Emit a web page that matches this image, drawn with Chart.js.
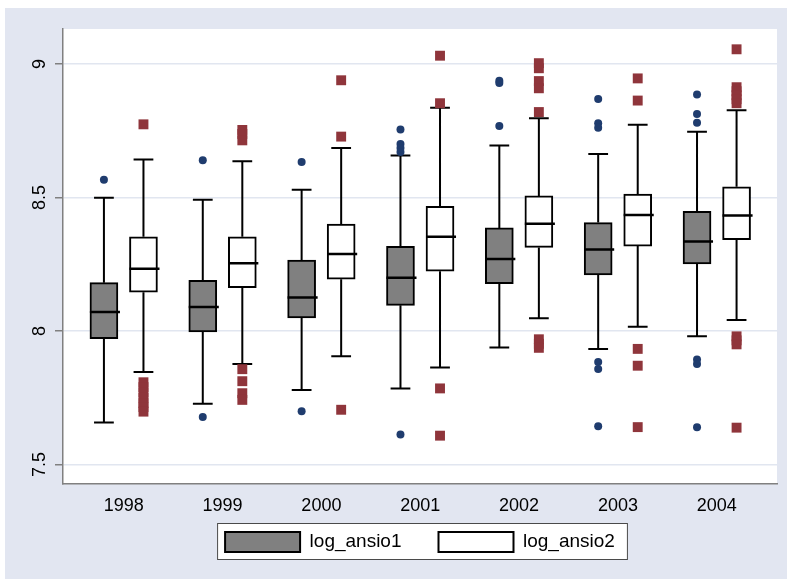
<!DOCTYPE html>
<html>
<head>
<meta charset="utf-8">
<script src="https://cdn.jsdelivr.net/npm/chart.js@4.4.1/dist/chart.umd.min.js"></script>
<style>
  html, body { margin: 0; padding: 0; background: #fff; }
  #wrap { position: absolute; left: 5px; top: 8px; width: 782px; height: 571px; }
</style>
</head>
<body>
<div id="wrap"><canvas id="box-chart" width="782" height="571"></canvas></div>
<script>
// Box plot of log_ansio1 / log_ansio2 by year, drawn with floating bars + line datasets.

const years = ['1998', '1999', '2000', '2001', '2002', '2003', '2004'];
const yTicks = [7.5, 8, 8.5, 9];

// log_ansio1 (grey boxes)
const a1Lo  = [7.657, 7.728, 7.779, 7.785, 7.938, 7.933, 7.980];
const a1Q1  = [7.971, 7.997, 8.049, 8.096, 8.177, 8.210, 8.251];
const a1Med = [8.071, 8.090, 8.125, 8.199, 8.270, 8.305, 8.335];
const a1Q3  = [8.181, 8.190, 8.266, 8.317, 8.386, 8.406, 8.448];
const a1Hi  = [8.499, 8.492, 8.529, 8.657, 8.695, 8.663, 8.746];
const a1Out = [
  [8.566],
  [8.639, 7.678],
  [8.633, 7.699],
  [8.755, 8.700, 8.685, 8.670, 7.612],
  [8.937, 8.929, 8.768],
  [8.869, 8.778, 8.761, 7.884, 7.858, 7.643],
  [8.886, 8.813, 8.780, 7.893, 7.876, 7.640]
];

// log_ansio2 (white boxes)
const a2Lo  = [7.846, 7.876, 7.905, 7.863, 8.048, 8.016, 8.041];
const a2Q1  = [8.145, 8.162, 8.194, 8.224, 8.313, 8.318, 8.342];
const a2Med = [8.233, 8.254, 8.288, 8.353, 8.402, 8.434, 8.433];
const a2Q3  = [8.353, 8.353, 8.400, 8.467, 8.506, 8.513, 8.540];
const a2Hi  = [8.642, 8.636, 8.685, 8.836, 8.797, 8.772, 8.827];
const a2Out = [
  [8.774, 7.808, 7.790, 7.770, 7.750, 7.730, 7.715, 7.698],
  [8.753, 8.738, 8.714, 7.857, 7.812, 7.767, 7.742],
  [8.939, 8.728, 7.705],
  [9.031, 8.853, 7.785, 7.608],
  [9.003, 8.984, 8.936, 8.909, 8.820, 7.969, 7.952, 7.937],
  [8.946, 8.863, 7.933, 7.870, 7.640],
  [9.055, 8.913, 8.898, 8.883, 8.868, 8.853, 7.980, 7.965, 7.950, 7.638]
];

const FONT = '"Liberation Sans", Arial, Helvetica, sans-serif';
const BG = '#e2e6f1';
const SHIFT = 0.2;   // each box sits this far left/right of the year
const CAP = 0.1;     // half width of the whisker caps

function boxes(q1, q3, shift) {
  return years.map((_, i) => ({ x: i + shift, y: [q1[i], q3[i]] }));
}

// whisker + caps as one polyline, broken with null points
function whiskers(lo, q1, q3, hi, shift) {
  const pts = [];
  years.forEach((_, i) => {
    const c = i + shift;
    pts.push(
      { x: c - CAP, y: hi[i] }, { x: c + CAP, y: hi[i] }, { x: c, y: null },
      { x: c, y: hi[i] }, { x: c, y: q3[i] }, { x: c, y: null },
      { x: c, y: q1[i] }, { x: c, y: lo[i] }, { x: c, y: null },
      { x: c - CAP, y: lo[i] }, { x: c + CAP, y: lo[i] }, { x: c, y: null }
    );
  });
  return pts;
}

function medians(med, shift) {
  const pts = [];
  years.forEach((_, i) => {
    const c = i + shift;
    pts.push({ x: c - 0.142, y: med[i] }, { x: c + 0.162, y: med[i] }, { x: c, y: null });
  });
  return pts;
}

function outliers(out, shift) {
  return out.flatMap((vals, i) => vals.map(v => ({ x: i + shift, y: v })));
}

// background, white plot region and the framed legend
const framePlugin = {
  id: 'frame',
  afterLayout(chart) {
    // pull the legend up close under the year labels (legend clips to its own box)
    const lg = chart.legend;
    lg.top = chart.chartArea.bottom + 11;
    lg.bottom = chart.height;
    lg.height = lg.bottom - lg.top;
  },
  beforeDraw(chart) {
    const { ctx, chartArea: a, width, height } = chart;
    ctx.save();
    ctx.fillStyle = BG;
    ctx.fillRect(0, 0, width, height);
    ctx.fillStyle = '#fff';
    ctx.fillRect(a.left, a.top, a.right - a.left, a.bottom - a.top);
    const hb = chart.legend && chart.legend.legendHitBoxes;
    if (hb && hb.length) {
      const last = hb[hb.length - 1];
      const l = hb[0].left - 8, r = last.left + last.width + 13;
      const t = hb[0].top - 9, b = hb[0].top + hb[0].height + 8;
      ctx.fillStyle = '#fff';
      ctx.fillRect(l, t, r - l, b - t);
      ctx.strokeStyle = '#4a4a4a';
      ctx.lineWidth = 1;
      ctx.strokeRect(l + 0.5, t + 0.5, r - l - 1, b - t - 1);
    }
    ctx.restore();
  }
};

const lineStyle = { type: 'line', borderColor: '#000', pointRadius: 0, spanGaps: false, fill: false, tension: 0 };

new Chart(document.getElementById('box-chart').getContext('2d'), {
  type: 'bar',
  data: {
    datasets: [
      Object.assign({ label: 'whisk1', data: whiskers(a1Lo, a1Q1, a1Q3, a1Hi, -SHIFT), borderWidth: 2, order: 3 }, lineStyle),
      Object.assign({ label: 'whisk2', data: whiskers(a2Lo, a2Q1, a2Q3, a2Hi, SHIFT), borderWidth: 2, order: 3 }, lineStyle),
      {
        label: 'log_ansio1', data: boxes(a1Q1, a1Q3, -SHIFT),
        backgroundColor: '#808080', borderColor: '#000', borderWidth: 2, borderSkipped: false,
        barThickness: 28, grouped: false, order: 2
      },
      {
        label: 'log_ansio2', data: boxes(a2Q1, a2Q3, SHIFT),
        backgroundColor: '#fff', borderColor: '#000', borderWidth: 2, borderSkipped: false,
        barThickness: 28, grouped: false, order: 2
      },
      Object.assign({ label: 'med1', data: medians(a1Med, -SHIFT), borderWidth: 2.5, order: 1 }, lineStyle),
      Object.assign({ label: 'med2', data: medians(a2Med, SHIFT), borderWidth: 2.5, order: 1 }, lineStyle),
      {
        type: 'scatter', label: 'out1', data: outliers(a1Out, -SHIFT),
        pointStyle: 'circle', pointRadius: 4, backgroundColor: '#1f3c6e', borderWidth: 0, order: 0
      },
      {
        type: 'scatter', label: 'out2', data: outliers(a2Out, SHIFT),
        pointStyle: 'rect', pointRadius: 7, backgroundColor: '#8f353b', borderWidth: 0, order: 0
      }
    ]
  },
  options: {
    responsive: false,
    animation: false,
    layout: { padding: { top: 21, right: 10, bottom: 15, left: 0 } },
    plugins: {
      legend: {
        position: 'bottom',
        fullSize: false,
        maxHeight: 40,
        labels: {
          filter: item => item.text.indexOf('log_') === 0,
          boxWidth: 75, boxHeight: 20, padding: 37,
          color: '#000', font: { family: FONT, size: 19 }
        }
      },
      tooltip: { enabled: false }
    },
    scales: {
      x: {
        type: 'linear', min: -0.614, max: 6.609, offset: false,
        afterBuildTicks: s => { s.ticks = years.map((_, i) => ({ value: i })); },
        afterFit: s => { s.height = 40; },
        grid: { display: false, offset: false },
        border: { color: '#808080', width: 1.5 },
        ticks: {
          callback: v => years[v], autoSkip: false, maxRotation: 0,
          color: '#000', padding: 3, font: { family: FONT, size: 18 }
        }
      },
      y: {
        min: 7.427, max: 9.131,
        afterBuildTicks: s => { s.ticks = yTicks.map(v => ({ value: v })); },
        afterFit: s => { s.width = 58; },
        grid: { color: '#e1e6f0', lineWidth: 1.5, tickColor: '#808080', tickLength: 8, tickWidth: 1.5 },
        border: { color: '#808080', width: 1.5 },
        ticks: {
          callback: v => String(v), minRotation: 90, maxRotation: 90, crossAlign: 'center',
          padding: 2, color: '#000', font: { family: FONT, size: 18 }
        }
      }
    }
  },
  plugins: [framePlugin]
});
</script>
</body>
</html>
